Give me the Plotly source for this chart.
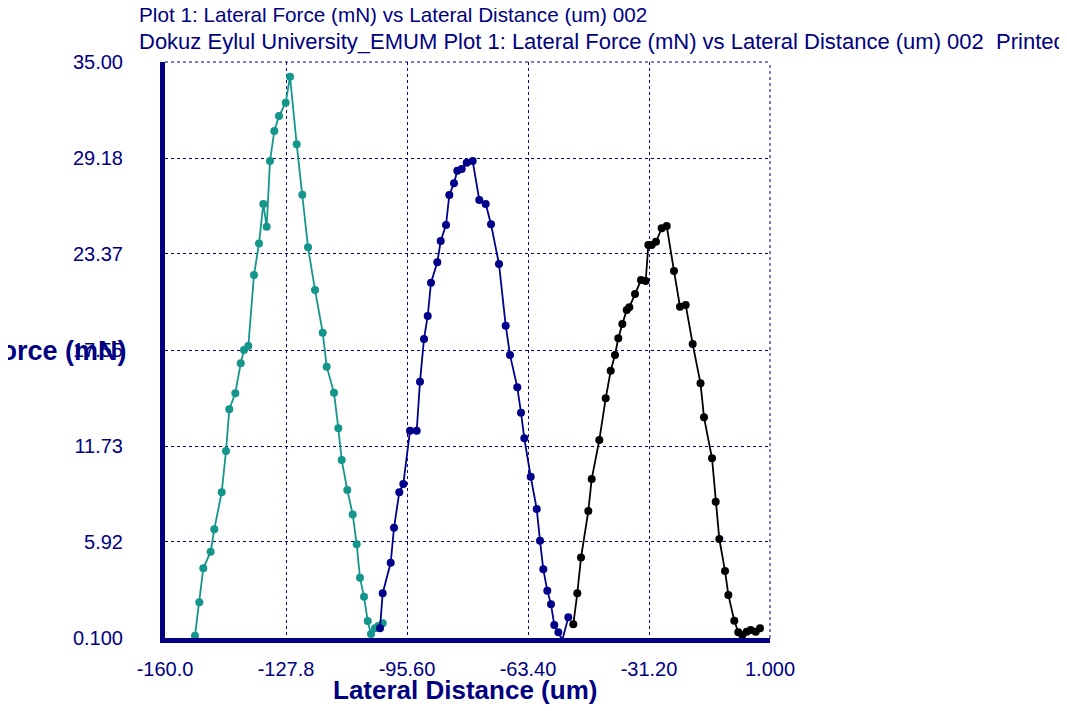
import plotly.graph_objects as go

# ---- data ----
teal_x = [-152.02, -150.87, -149.81, -147.84, -146.88, -144.91, -143.77, -142.89, -141.29, -139.85,
          -138.98, -137.83, -136.32, -134.98, -133.84, -132.94, -132.06, -130.91, -129.66, -127.88,
          -126.73, -124.95, -123.46, -121.94, -120.08, -118.03, -116.97, -115.03, -113.88, -112.98,
          -111.49, -110.05, -108.99, -108.11, -107.04, -106.06, -105.18, -104.11, -103.24, -102.07]
teal_y = [0.24, 2.26, 4.32, 5.33, 6.69, 8.93, 11.43, 13.96, 14.93, 16.74,
          17.55, 17.79, 22.09, 24.01, 26.40, 25.02, 29.00, 30.82, 31.73, 32.53,
          34.11, 30.01, 26.96, 23.77, 21.19, 18.60, 16.54, 14.96, 12.81, 10.89,
          9.07, 7.59, 5.78, 3.75, 2.60, 1.13, 0.34, 0.69, 0.83, 0.99]

navy_x = [-102.78, -102.07, -99.94, -99.06, -97.65, -96.58, -94.80, -93.02, -92.14, -91.07,
          -90.09, -89.21, -87.54, -86.63, -85.22, -84.34, -83.09, -82.21, -81.04, -79.71,
          -78.12, -76.36, -74.66, -73.24, -71.12, -69.33, -68.19, -66.25, -65.26, -64.38,
          -62.68, -61.08, -60.20, -59.33, -58.26, -57.28, -56.40, -55.33, -54.27, -52.67]
navy_y = [0.69, 2.81, 4.66, 6.78, 8.93, 9.43, 12.66, 12.66, 15.63, 18.22,
          19.61, 21.63, 22.86, 24.15, 25.12, 26.94, 27.65, 28.41, 28.52, 28.90,
          29.00, 26.64, 26.40, 25.17, 22.76, 19.02, 17.25, 15.29, 13.75, 12.20,
          9.87, 7.92, 5.99, 4.26, 2.97, 2.14, 0.89, 0.45, -0.02, 1.35]

black_x = [-51.34, -50.28, -49.29, -47.35, -46.45, -44.42, -42.72, -41.39, -40.25, -39.37,
           -38.30, -37.13, -36.44, -34.92, -33.33, -32.08, -31.38, -30.48, -29.34, -27.82,
           -26.49, -24.55, -22.95, -21.43, -19.57, -17.49, -16.56, -14.43, -13.45, -12.49,
           -10.97, -10.09, -8.50, -7.44, -6.37, -5.20, -4.14, -2.80, -1.66]
black_y = [0.93, 2.81, 4.97, 7.79, 9.73, 12.10, 14.62, 16.30, 17.25, 18.26,
           19.13, 19.97, 20.14, 20.94, 21.79, 21.73, 23.91, 23.91, 24.11, 24.92,
           25.06, 22.34, 20.17, 20.28, 17.91, 15.53, 13.47, 10.99, 8.36, 6.10,
           4.16, 2.71, 1.15, 0.45, 0.28, 0.48, 0.58, 0.48, 0.69]

x_tickvals = [-160.0, -127.8, -95.6, -63.4, -31.2, 1.0]
x_ticktext = ["-160.0", "-127.8", "-95.60", "-63.40", "-31.20", "1.000"]
y_tickvals = [0.1, 5.92, 11.73, 17.55, 23.37, 29.18, 35.0]
y_ticktext = ["0.100", "5.92", "11.73", "17.55", "23.37", "29.18", "35.00"]

title1 = "Plot 1: Lateral Force (mN) vs Lateral Distance (um) 002"
title2 = "Dokuz Eylul University_EMUM Plot 1: Lateral Force (mN) vs Lateral Distance (um) 002\u00a0\u00a0Printed"
x_title = "Lateral Distance (um)"
y_title = "Lateral Force (mN)"

NAVY = "#000080"
FONT = "Liberation Sans, Arial, sans-serif"

fig = go.Figure()
for xs, ys, col in [(teal_x, teal_y, "#14968c"), (navy_x, navy_y, "#00008b"), (black_x, black_y, "#000000")]:
    fig.add_trace(go.Scatter(x=xs, y=ys, mode="lines+markers",
                             line=dict(color=col, width=1.8),
                             marker=dict(color=col, size=8),
                             cliponaxis=False, showlegend=False))

# the page body adds an 8px offset; compensate so the plot lands where the reference has it
OFF = 8
W, H = 1067, 711
L, T = 165 - OFF, 62 - OFF
PW, PH = 605, 576
R = W - L - PW
B = H - T - PH

fig.update_layout(
    width=W, height=H,
    margin=dict(l=L, r=R, t=T, b=B, pad=0),
    paper_bgcolor="white", plot_bgcolor="white",
    font=dict(family=FONT, color=NAVY),
    xaxis=dict(range=[-160, 1.0], tickvals=x_tickvals, ticktext=x_ticktext,
               showgrid=True, gridcolor=NAVY, gridwidth=1, griddash="dot",
               showline=True, linecolor=NAVY, linewidth=5, zeroline=False,
               ticks="", ticklabelstandoff=9,
               tickfont=dict(size=20, family=FONT, color=NAVY)),
    yaxis=dict(range=[0.1, 35.0], tickvals=y_tickvals, ticktext=y_ticktext,
               showgrid=True, gridcolor=NAVY, gridwidth=1, griddash="dot",
               showline=True, linecolor=NAVY, linewidth=5, zeroline=False,
               ticks="", ticklabelstandoff=33,
               tickfont=dict(size=20, family=FONT, color=NAVY)),
)

# dotted top and right frame lines
fig.add_shape(type="line", xref="paper", yref="paper", x0=0, x1=1, y0=1, y1=1,
              line=dict(color=NAVY, width=1, dash="dot"))
fig.add_shape(type="line", xref="paper", yref="paper", x0=1, x1=1, y0=0, y1=1,
              line=dict(color=NAVY, width=1, dash="dot"))


def px_x(p):
    return (p - OFF - L) / PW


def px_y(p):
    return (T + PH - (p - OFF)) / PH


fig.add_annotation(text=title1, xref="paper", yref="paper", x=px_x(137), y=px_y(14),
                   xanchor="left", yanchor="middle", showarrow=False,
                   font=dict(size=20.7, family=FONT, color=NAVY))
fig.add_annotation(text=title2, xref="paper", yref="paper", x=px_x(137), y=px_y(42),
                   xanchor="left", yanchor="middle", showarrow=False,
                   font=dict(size=22, family=FONT, color=NAVY))
fig.add_annotation(text="<b>" + x_title + "</b>", xref="paper", yref="paper", x=px_x(465), y=px_y(690),
                   xanchor="center", yanchor="middle", showarrow=False,
                   font=dict(size=26, family=FONT, color=NAVY))
fig.add_annotation(text="<b>" + y_title + "</b>", xref="paper", yref="paper", x=px_x(129), y=px_y(351),
                   xanchor="right", yanchor="middle", showarrow=False,
                   font=dict(size=27, family=FONT, color=NAVY))

fig.write_html("out.html")
